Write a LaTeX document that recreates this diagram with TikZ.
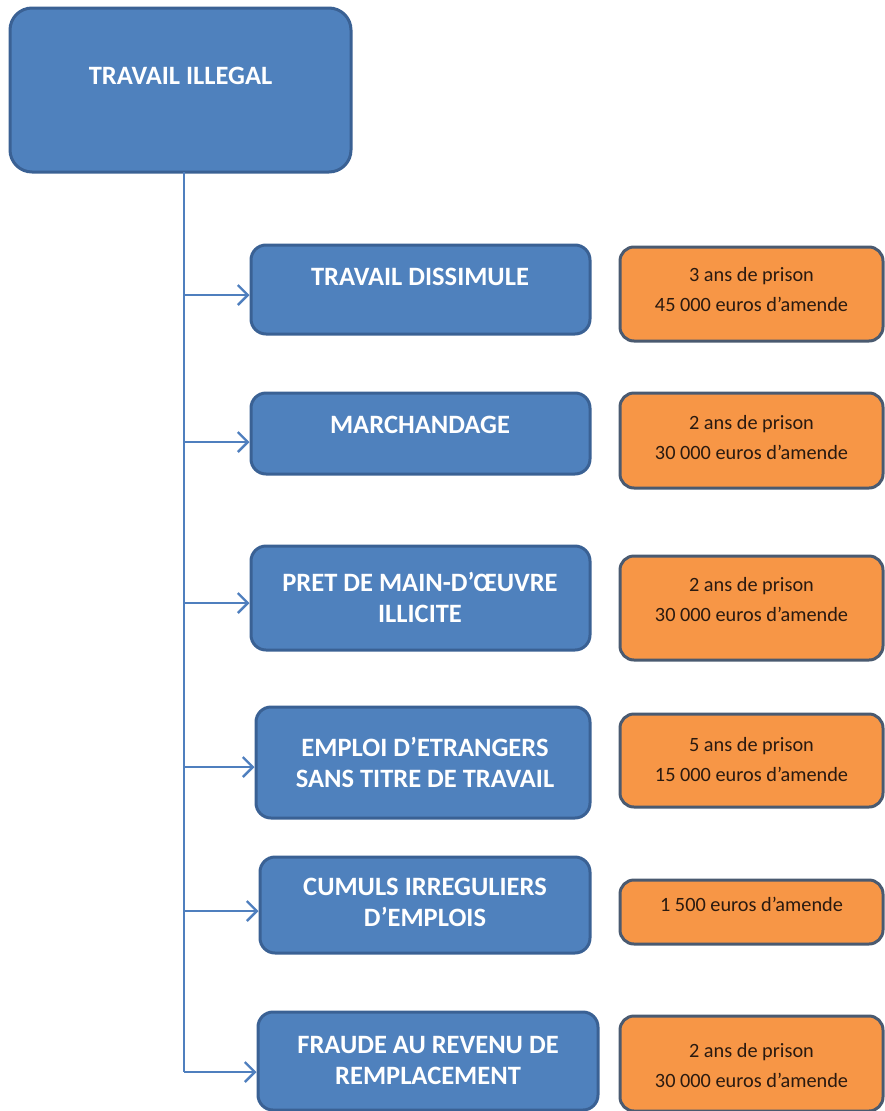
\documentclass[tikz,border=0pt]{standalone}
\usepackage{fontspec}
\setmainfont{Carlito}
\usetikzlibrary{arrows.meta}
\definecolor{bfill}{HTML}{4F81BD}
\definecolor{bedge}{HTML}{3A6194}
\definecolor{ofill}{HTML}{F79646}
\definecolor{oedge}{HTML}{4A5A70}
\definecolor{otext}{HTML}{2A1A10}
\definecolor{lcol}{HTML}{4F7FBE}
\tikzset{
  bbox/.style={draw=bedge, fill=bfill, line width=3pt, rounded corners=15pt, inner sep=0pt},
  obox/.style={draw=oedge, fill=ofill, line width=3pt, rounded corners=14pt, inner sep=0pt},
  btext/.style={text=white, font=\fontsize{26.5}{31}\selectfont\bfseries, align=center, inner sep=0pt},
  otext/.style={text=otext, font=\fontsize{20.3}{30}\selectfont, align=center, inner sep=0pt},
  conn/.style={draw=lcol, line width=2.4pt},
  arr/.style={conn, -{Straight Barb[length=10pt,width=20pt]}}
}
\begin{document}
\begin{tikzpicture}[x=1pt,y=-1pt]
\useasboundingbox (0,0) rectangle (885,1111);
% top box
\draw[bbox, rounded corners=22pt] (10,8) rectangle (351,172);
\node[btext] (top) at (180.5,76) {TRAVAIL ILLEGAL};
% blue boxes
\node[bbox, minimum width=339pt, minimum height=89pt] (b1) at (420.5,289.5) {};
\node[bbox, minimum width=339pt, minimum height=81pt] (b2) at (420.5,433.5) {};
\node[bbox, minimum width=339pt, minimum height=104pt] (b3) at (420.5,598) {};
\node[bbox, minimum width=334pt, minimum height=111pt] (b4) at (423,762.5) {};
\node[bbox, minimum width=330pt, minimum height=96pt] (b5) at (425,905) {};
\node[bbox, minimum width=340pt, minimum height=98pt] (b6) at (428,1061) {};
\node[btext] at (420,277) {TRAVAIL DISSIMULE};
\node[btext] at (420,425) {MARCHANDAGE};
\node[btext] at (420,597) {PRET DE MAIN-D’ŒUVRE\\ILLICITE};
\node[btext] at (425,762) {EMPLOI D’ETRANGERS\\SANS TITRE DE TRAVAIL};
\node[btext] at (425,902) {CUMULS IRREGULIERS\\D’EMPLOIS};
\node[btext] at (428,1060) {FRAUDE AU REVENU DE\\REMPLACEMENT};
% orange boxes
\node[obox, minimum width=263pt, minimum height=94pt] (o1) at (751.5,294) {};
\node[obox, minimum width=263pt, minimum height=95pt] (o2) at (751.5,440.5) {};
\node[obox, minimum width=263pt, minimum height=104pt] (o3) at (751.5,608) {};
\node[obox, minimum width=263pt, minimum height=93pt] (o4) at (751.5,760.5) {};
\node[obox, minimum width=263pt, minimum height=64pt] (o5) at (751.5,912) {};
\node[obox, minimum width=263pt, minimum height=95pt] (o6) at (751.5,1063.5) {};
\node[otext] at (751.5,290) {3 ans de prison\\45 000 euros d’amende};
\node[otext] at (751.5,438) {2 ans de prison\\30 000 euros d’amende};
\node[otext] at (751.5,600) {2 ans de prison\\30 000 euros d’amende};
\node[otext] at (751.5,760) {5 ans de prison\\15 000 euros d’amende};
\node[otext] at (751.5,904) {1 500 euros d’amende};
\node[otext] at (751.5,1066) {2 ans de prison\\30 000 euros d’amende};
% trunk
\coordinate (t0) at (184,172);
\coordinate (t1) at (184,295);
\coordinate (t2) at (184,442);
\coordinate (t3) at (184,603);
\coordinate (t4) at (184,767);
\coordinate (t5) at (184,911);
\coordinate (t6) at (184,1072);
\draw[conn] (t0) -- (t6);
\draw[arr] (t1) -- (t1 -| b1.west);
\draw[arr] (t2) -- (t2 -| b2.west);
\draw[arr] (t3) -- (t3 -| b3.west);
\draw[arr] (t4) -- (t4 -| b4.west);
\draw[arr] (t5) -- (t5 -| b5.west);
\draw[arr] (t6) -- (t6 -| b6.west);
\end{tikzpicture}
\end{document}
